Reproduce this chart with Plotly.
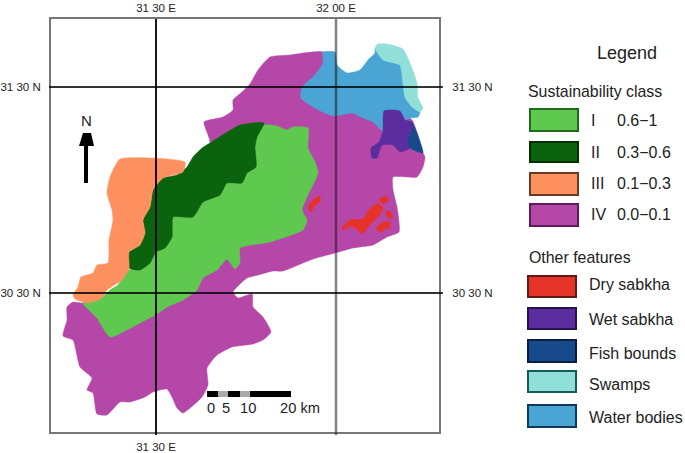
import plotly.graph_objects as go

FONT = "Liberation Sans"
# Digitised outlines, in scan units; lon() and lat() turn them into coordinates for the axes
CLASS_IV = [(204,122),(223,117),(233,110),(233,100),(242,92),(250,84),(258,70),(270,57),(290,55),(323,52),(345,75),(380,100),(412,120),(423,153),(425,157),(423,167),(417,177),(393,177),(393,190),(397,207),(399,232),(387,237),(373,245),(353,248),(335,253),(313,259),(283,271),(273,271),(258,275),(247,278),(233,292),(238,298),(252,294),(253,307),(263,317),(271,332),(263,340),(253,344),(232,347),(217,355),(207,368),(208,385),(202,397),(183,413),(177,408),(172,397),(167,389),(153,392),(145,397),(130,402),(120,402),(107,415),(97,414),(93,393),(87,390),(92,378),(80,367),(73,340),(63,336),(67,320),(67,307),(73,302),(83,303),(120,290),(160,200),(210,143)]
CLASS_I = [(83,303),(97,318),(110,337),(140,323),(157,314),(167,307),(183,300),(197,290),(203,278),(217,270),(227,259),(235,269),(240,263),(240,248),(270,242),(303,230),(307,220),(302,210),(307,197),(318,173),(315,162),(308,148),(308,128),(293,127),(287,130),(277,126),(264,125),(257,137),(255,147),(256,167),(247,173),(242,183),(227,183),(220,195),(203,202),(193,217),(173,217),(172,237),(165,248),(156,252),(150,263),(140,270),(128,270),(118,285),(110,290),(102,297)]
CLASS_II = [(264,123),(240,125),(210,143),(202,148),(193,157),(187,167),(177,175),(163,178),(153,190),(150,207),(143,220),(145,233),(140,245),(129,252),(129,268),(140,270),(150,263),(156,252),(165,248),(172,237),(173,217),(193,217),(203,202),(220,195),(227,183),(242,183),(247,173),(256,167),(255,147),(257,137)]
CLASS_III = [(120,159),(185,162),(183,172),(163,178),(153,190),(150,207),(143,220),(145,233),(140,245),(129,252),(129,268),(122,280),(107,290),(102,298),(88,303),(75,299),(73,295),(78,287),(81,277),(93,273),(97,265),(108,263),(109,240),(113,220),(112,210),(107,193),(110,177)]
WATER = [(323,52),(335,52),(337,65),(347,73),(360,70),(368,60),(375,53),(375,48),(383,60),(400,65),(403,83),(405,97),(412,107),(420,112),(418,117),(410,118),(405,120),(400,111),(384,111),(383,131),(373,122),(363,118),(352,113),(333,116),(313,107),(301,98),(302,87),(315,75),(323,63)]
SWAMPS = [(375,48),(378,44),(387,44),(403,49),(410,63),(417,83),(418,98),(423,108),(420,112),(412,107),(405,97),(403,83),(400,65),(383,60)]
WET_SABKHA = [(384,111),(400,111),(405,120),(412,122),(413,128),(408,140),(410,148),(400,152),(393,145),(382,145),(377,158),(372,158),(371,148),(379,142),(383,131)]
FISH = [(412,122),(417,133),(423,153),(410,148),(408,140),(413,128)]
DRY_1 = [(342,228),(350,220),(363,219),(368,211),(378,203),(383,208),(379,216),(369,226),(362,234),(357,229),(350,226),(343,230)]
DRY_2 = [(379,200),(385,196),(389,199),(384,204)]
DRY_3 = [(386,211),(391,212),(393,218),(388,218)]
DRY_4 = [(377,227),(383,222),(390,222),(390,228),(384,229),(382,232),(378,231)]
DRY_5 = [(308,207),(313,200),(320,196),(320,202),(315,205),(311,212)]

CLASS_NAMES = ["I", "II", "III", "IV"]
CLASS_RANGES = ["0.6\u22121", "0.3\u22120.6", "0.1\u22120.3", "0.0\u22120.1"]
CLASS_COLORS = ["#5FC84F", "#0B640D", "#FF9160", "#B547A8"]
CLASS_EDGES = ["#1D6B1B", "#032E04", "#6B3A22", "#5E1A5A"]
FEATURE_NAMES = ["Dry sabkha", "Wet sabkha", "Fish bounds", "Swamps", "Water bodies"]
FEATURE_COLORS = ["#E63329", "#5B2D9F", "#164A8B", "#90DFD9", "#4AA5D5"]
FEATURE_EDGES = ["#5E1A16", "#24124A", "#0A1F40", "#1A5A58", "#0C3A58"]
LON_TICKS_TOP = [31.5, 32.0]
LON_LABELS_TOP = ["31 30 E", "32 00 E"]
LON_TICKS_BOTTOM = [31.5]
LON_LABELS_BOTTOM = ["31 30 E"]
LAT_TICKS = [31.5, 30.5]
LAT_LABELS = ["31 30 N", "30 30 N"]
SCALE_KM = ["0", "5", "10", "20 km"]

L, R, T, B = 51, 439, 19, 432
def lon(px): return 31.5 + (px - 156) / 360
def lat(py): return 31.5 - (py - 87) / 206
def px_x(px): return (px - L) / (R - L)
def px_y(py): return (B - py) / (B - T)

fig = go.Figure()
def area(points, color, name):
    fig.add_trace(go.Scatter(
        x=[lon(p[0]) for p in points] + [lon(points[0][0])],
        y=[lat(p[1]) for p in points] + [lat(points[0][1])],
        mode="lines", fill="toself", fillcolor=color, name=name,
        line=dict(color=color, width=0.5, shape="spline", smoothing=0.5),
        hoverinfo="name", showlegend=False))

area(CLASS_IV, CLASS_COLORS[3], "IV")
area(CLASS_I, CLASS_COLORS[0], "I")
area(CLASS_II, CLASS_COLORS[1], "II")
area(CLASS_III, CLASS_COLORS[2], "III")
area(WATER, FEATURE_COLORS[4], "Water bodies")
area(SWAMPS, FEATURE_COLORS[3], "Swamps")
area(WET_SABKHA, FEATURE_COLORS[1], "Wet sabkha")
area(FISH, FEATURE_COLORS[2], "Fish bounds")
for d in (DRY_1, DRY_2, DRY_3, DRY_4, DRY_5):
    area(d, FEATURE_COLORS[0], "Dry sabkha")

# empty trace that brings the top and right axes into use
fig.add_trace(go.Scatter(x=LON_TICKS_TOP, y=LAT_TICKS, xaxis="x2", yaxis="y2",
                         mode="none", showlegend=False, hoverinfo="skip"))

shapes, ann = [], []
def text(x, y, s, size=13.5, anchor="left"):
    ann.append(dict(xref="paper", yref="paper", x=px_x(x), y=px_y(y), text=s, showarrow=False,
                    xanchor=anchor, yanchor="middle", xshift=-2 if anchor == "left" else 0,
                    font=dict(size=size, color="#222", family=FONT)))

# graticule over the map
for v, c, w in zip(LON_TICKS_TOP, ["rgba(0,0,0,0.9)", "rgba(30,30,30,0.55)"], [2, 2.5]):
    shapes.append(dict(type="line", xref="x", yref="paper", x0=v, x1=v, y0=-0.007, y1=1, line=dict(color=c, width=w)))
for v in LAT_TICKS:
    shapes.append(dict(type="line", xref="paper", yref="y", x0=-0.005, x1=1.01, y0=v, y1=v, line=dict(color="rgba(0,0,0,0.8)", width=2)))

# north arrow
shapes.append(dict(type="rect", xref="paper", yref="paper", x0=px_x(84), x1=px_x(88), y0=px_y(183), y1=px_y(145), fillcolor="black", line_width=0))
shapes.append(dict(type="path", xref="paper", yref="paper", fillcolor="black", line_width=0,
    path=f"M{px_x(83)},{px_y(133)} L{px_x(91)},{px_y(133)} L{px_x(94)},{px_y(146)} L{px_x(79)},{px_y(146)} Z"))
text(86, 120, "N", 15, "center")

# scale bar
for x0, x1, col in [(207, 218, "black"), (218, 228, "#aaa"), (228, 240, "black"), (240, 250, "#aaa"), (250, 291, "black")]:
    shapes.append(dict(type="rect", xref="paper", yref="paper", x0=px_x(x0), x1=px_x(x1), y0=px_y(397), y1=px_y(391), fillcolor=col, line_width=0))
for x, s in zip([211, 226, 248, 300], SCALE_KM):
    text(x, 408, s, 14.7, "center")

# legend
text(627, 53, "Legend", 18, "center")
text(528, 91, "Sustainability class", 15.9)
for i, (y0, y1) in enumerate([(109, 131), (142, 162), (173, 195), (204, 226)]):
    shapes.append(dict(type="rect", xref="paper", yref="paper", x0=px_x(530), x1=px_x(578), y0=px_y(y1), y1=px_y(y0),
                       fillcolor=CLASS_COLORS[i], line=dict(color=CLASS_EDGES[i], width=2)))
    text(591, (y0 + y1) / 2, CLASS_NAMES[i], 16)
    text(617, (y0 + y1) / 2, CLASS_RANGES[i], 16)
text(529, 257, "Other features", 15.9)
for i, (y0, y1) in enumerate([(276, 297), (308, 329), (340, 362), (371, 392), (405, 427)]):
    shapes.append(dict(type="rect", xref="paper", yref="paper", x0=px_x(528), x1=px_x(576), y0=px_y(y1), y1=px_y(y0),
                       fillcolor=FEATURE_COLORS[i], line=dict(color=FEATURE_EDGES[i], width=2)))
    text(589, [284, 319, 353, 384, 417][i], FEATURE_NAMES[i], 16)

tick_font = dict(size=11.5, color="#222", family=FONT)
frame = dict(showgrid=False, zeroline=False, showline=True, linecolor="#777", linewidth=2, ticks="", tickfont=tick_font, automargin=False)
xr = [lon(L), lon(R)]
yr = [lat(B), lat(T)]
fig.update_layout(
    width=685, height=453, margin=dict(l=L, r=685 - R, t=T, b=453 - B, pad=0, autoexpand=False),
    paper_bgcolor="white", plot_bgcolor="white", showlegend=False,
    shapes=shapes, annotations=ann,
    xaxis=dict(range=xr, tickvals=LON_TICKS_BOTTOM, ticktext=LON_LABELS_BOTTOM, side="bottom", ticklabelstandoff=3, **frame),
    yaxis=dict(range=yr, tickvals=LAT_TICKS, ticktext=LAT_LABELS, side="left", ticklabelstandoff=6, **frame),
    xaxis2=dict(range=xr, tickvals=LON_TICKS_TOP, ticktext=LON_LABELS_TOP, overlaying="x", side="top", **frame),
    yaxis2=dict(range=yr, tickvals=LAT_TICKS, ticktext=LAT_LABELS, overlaying="y", side="right", ticklabelstandoff=9, **frame),
)
fig.write_html("out.html", config={"displayModeBar": False}, post_script="document.body.style.margin='0';")
